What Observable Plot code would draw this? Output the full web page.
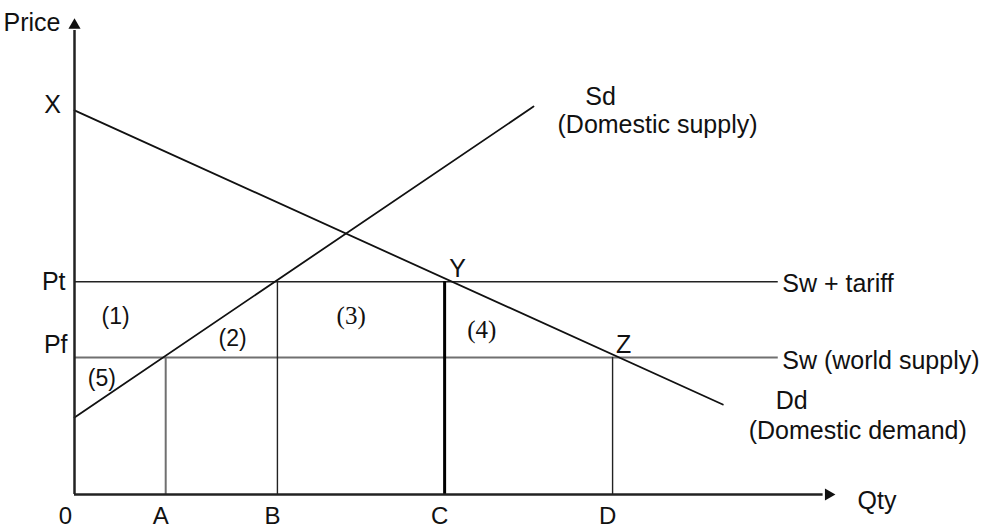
<!DOCTYPE html>
<html>
<head>
<meta charset="utf-8">
<script src="https://cdn.jsdelivr.net/npm/d3@7"></script>
<script src="https://cdn.jsdelivr.net/npm/@observablehq/plot@0.6"></script>
<style>
  html, body { margin: 0; padding: 0; background: #fff; }
  #chart svg { display: block; }
</style>
</head>
<body>
<div id="chart"></div>
<script>
// Quantity marks on the x axis
const qtyLabels = ["0", "A", "B", "C", "D"];
const qtyValues = [0, 12, 26.7, 48.7, 70.8];
// Price marks on the y axis
const priceLabels = ["X", "Pt", "Pf"];
const priceValues = [80.7, 44.7, 28.8];
// Domestic supply curve (Sd)
const supplyQ = [0, 60.4];
const supplyP = [16.2, 81.5];
// Domestic demand curve (Dd)
const demandQ = [0, 85.3];
const demandP = [80.7, 18.9];
// World supply lines extend to
const worldEnd = 92.6;
// Area labels
const areaLabels = ["(1)", "(2)", "(3)", "(4)", "(5)"];
const areaQ = [5.4, 20.8, 36.4, 53.6, 3.6];
const areaP = [37.4, 32.8, 37.6, 34.5, 24.4];
const areaSerif = [false, false, true, true, false];

const Pt = priceValues[1], Pf = priceValues[2];
const [q0, qA, qB, qC, qD] = qtyValues;

const sans = "Liberation Sans, Arial, sans-serif";
const serif = "Liberation Serif, Times New Roman, serif";
const ink = "#111";
const fs = 25;

const supply = supplyQ.map((q, i) => ({q, p: supplyP[i]}));
const demand = demandQ.map((q, i) => ({q, p: demandP[i]}));
const areas = areaLabels.map((t, i) => ({t, q: areaQ[i], p: areaP[i], serif: areaSerif[i]}));
const qty = qtyLabels.map((t, i) => ({t, q: qtyValues[i]}));

const chart = Plot.plot({
  width: 994,
  height: 532,
  margin: 0,
  x: {domain: [0, 100], range: [74, 834], axis: null},
  y: {domain: [0, 100], range: [494, 18], axis: null},
  style: {fontFamily: sans, background: "#fff"},
  marks: [
    // world supply (Pf) and world + tariff (Pt)
    Plot.ruleY([Pf], {x1: 0, x2: worldEnd, stroke: "#707070", strokeWidth: 2}),
    Plot.ruleY([Pt], {x1: 0, x2: worldEnd, stroke: "#222", strokeWidth: 1.6}),
    // drop lines
    Plot.ruleX([qA], {y1: 0, y2: Pf, stroke: "#707070", strokeWidth: 2}),
    Plot.ruleX([qB], {y1: 0, y2: Pt, stroke: "#222", strokeWidth: 1.4}),
    Plot.ruleX([qC], {y1: 0, y2: Pt, stroke: "#000", strokeWidth: 3}),
    Plot.ruleX([qD], {y1: 0, y2: Pf, stroke: "#222", strokeWidth: 1.4}),
    // curves
    Plot.line(supply, {x: "q", y: "p", stroke: "#111", strokeWidth: 1.8}),
    Plot.line(demand, {x: "q", y: "p", stroke: "#111", strokeWidth: 1.8}),
    // axes
    Plot.ruleX([0], {y1: 0, y2: 97.5, stroke: "#222", strokeWidth: 2.5}),
    Plot.ruleY([0], {x1: 0, x2: 98.5, stroke: "#222", strokeWidth: 2.5}),
    Plot.dot([{q: 0, p: 98.6}], {x: "q", y: "p", symbol: "triangle", r: 4.5, fill: "#111", stroke: "none"}),
    Plot.dot([{q: 99.2, p: 0}], {x: "q", y: "p", symbol: "triangle", r: 4.5, fill: "#111", stroke: "none", rotate: 90}),
    // axis titles
    Plot.text(["Price"], {x: 0, y: 100, dx: -71, dy: 4, text: d => d, textAnchor: "start", fontSize: fs, fill: ink}),
    Plot.text(["Qty"], {x: 100, y: 0, dx: 23, dy: 6, text: d => d, textAnchor: "start", fontSize: fs, fill: ink}),
    // price labels
    Plot.text([priceLabels[0]], {x: 0, y: priceValues[0], dx: -22, dy: -5, text: d => d, fontSize: fs, fill: ink}),
    Plot.text([priceLabels[1]], {x: 0, y: Pt, dx: -9, dy: 0, text: d => d, textAnchor: "end", fontSize: fs, fill: ink}),
    Plot.text([priceLabels[2]], {x: 0, y: Pf, dx: -7, dy: -12, text: d => d, textAnchor: "end", fontSize: fs, fill: ink}),
    // quantity labels
    Plot.text(qty.slice(0, 1), {x: "q", y: 0, dx: -9, dy: 22, text: "t", fontSize: 24, fill: ink}),
    Plot.text(qty.slice(1), {x: "q", y: 0, dx: -5, dy: 22, text: "t", fontSize: 24, fill: ink}),
    // area labels
    Plot.text(areas.filter(d => !d.serif), {x: "q", y: "p", text: "t", fontSize: 23, fill: ink}),
    Plot.text(areas.filter(d => d.serif), {x: "q", y: "p", text: "t", fontSize: 25, fill: ink, fontFamily: serif}),
    // points Y, Z
    Plot.text(["Y"], {x: qC, y: Pt, dx: 13, dy: -13, text: d => d, fontSize: fs, fill: ink}),
    Plot.text(["Z"], {x: qD, y: Pf, dx: 11, dy: -12, text: d => d, fontSize: fs, fill: ink}),
    // curve labels
    Plot.text(["Sd"], {x: supplyQ[1], y: supplyP[1], dx: 67, dy: -10, text: d => d, fontSize: fs, fill: ink}),
    Plot.text(["(Domestic supply)"], {x: supplyQ[1], y: supplyP[1], dx: 124, dy: 18, text: d => d, fontSize: fs, fill: ink}),
    Plot.text(["Sw + tariff"], {x: worldEnd, y: Pt, dx: 4, dy: 2, text: d => d, textAnchor: "start", fontSize: fs, fill: ink}),
    Plot.text(["Sw (world supply)"], {x: worldEnd, y: Pf, dx: 4, dy: 4, text: d => d, textAnchor: "start", fontSize: fs, fill: ink}),
    Plot.text(["Dd"], {x: demandQ[1], y: demandP[1], dx: 53, dy: -4, text: d => d, textAnchor: "start", fontSize: fs, fill: ink}),
    Plot.text(["(Domestic demand)"], {x: demandQ[1], y: demandP[1], dx: 135, dy: 26, text: d => d, fontSize: fs, fill: ink})
  ]
});
document.getElementById("chart").appendChild(chart);
</script>
</body>
</html>
